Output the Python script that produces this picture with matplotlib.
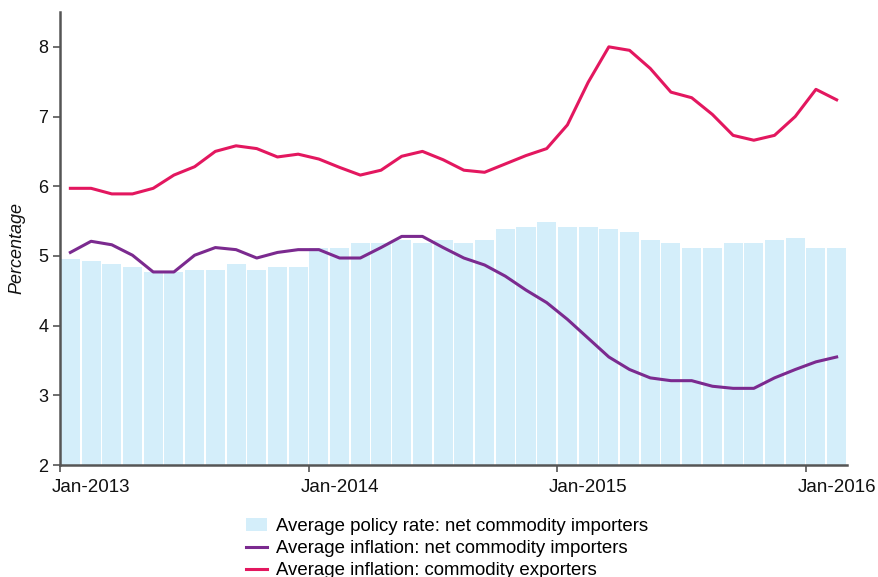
import matplotlib
matplotlib.use("Agg")
import matplotlib.pyplot as plt
import matplotlib.transforms as mtransforms
import numpy as np

plt.rcParams['font.family'] = ['Liberation Sans', 'DejaVu Sans']

months = [f"{m}-{y}" for y in (2013, 2014, 2015, 2016) for m in
          ("Jan", "Feb", "Mar", "Apr", "May", "Jun", "Jul", "Aug", "Sep", "Oct", "Nov", "Dec")][:38]

policy_rate = [4.95, 4.92, 4.88, 4.84, 4.77, 4.77, 4.80, 4.80, 4.88, 4.80, 4.84, 4.84,
               5.11, 5.11, 5.19, 5.19, 5.23, 5.19, 5.23, 5.19, 5.23, 5.38, 5.42, 5.49,
               5.42, 5.42, 5.38, 5.34, 5.23, 5.19, 5.11, 5.11, 5.19, 5.19, 5.23, 5.26,
               5.11, 5.11]

infl_importers = [5.05, 5.21, 5.16, 5.01, 4.77, 4.77, 5.01, 5.12, 5.09, 4.97, 5.05, 5.09,
                  5.09, 4.97, 4.97, 5.12, 5.28, 5.28, 5.12, 4.97, 4.87, 4.71, 4.51, 4.33,
                  4.09, 3.82, 3.55, 3.37, 3.25, 3.21, 3.21, 3.13, 3.10, 3.10, 3.25, 3.37,
                  3.48, 3.55]

infl_exporters = [5.97, 5.97, 5.89, 5.89, 5.97, 6.16, 6.28, 6.50, 6.58, 6.54, 6.42, 6.46,
                  6.39, 6.27, 6.16, 6.23, 6.43, 6.50, 6.38, 6.23, 6.20, 6.32, 6.44, 6.54,
                  6.88, 7.49, 8.00, 7.95, 7.69, 7.35, 7.27, 7.03, 6.73, 6.66, 6.73, 7.00,
                  7.39, 7.24]

tick_labels = ["Jan-2013", "Jan-2014", "Jan-2015", "Jan-2016"]

bar_color = "#D4EEFA"
purple = "#7B2A8F"
pink = "#E3175F"
axis_color = "#555555"

fig = plt.figure(figsize=(8.79, 5.77), dpi=100)
ax = fig.add_axes([60/879, 1-465/577, (847-60)/879, (465-12)/577])

x = np.arange(len(months)) + 0.5
bars = ax.bar(x, policy_rate, width=0.92, bottom=0, color=bar_color, zorder=1)
l1, = ax.plot(x, infl_importers, color=purple, lw=2.2, zorder=3)
l2, = ax.plot(x, infl_exporters, color=pink, lw=2.2, zorder=3)

ax.set_xlim(0, len(months))
ax.set_ylim(2, 8.5)
ax.set_yticks([2, 3, 4, 5, 6, 7, 8])
ax.set_xticks([0, 12, 24, 36])
ax.set_xticklabels(tick_labels)

for s in ("top", "right"):
    ax.spines[s].set_visible(False)
for s in ("left", "bottom"):
    ax.spines[s].set_color(axis_color)
    ax.spines[s].set_linewidth(1.8)
ax.tick_params(axis="both", colors=axis_color, labelcolor="#111111",
               labelsize=13, length=5, width=1.2)
ax.tick_params(axis="x", pad=5, labelsize=13.5)

offset = mtransforms.ScaledTranslation(-8/100, 0, fig.dpi_scale_trans)
for lab in ax.get_xticklabels():
    lab.set_horizontalalignment("left")
    lab.set_transform(lab.get_transform() + offset)

fig.text(17/879, 1-248/577, "Percentage", fontsize=13, style="italic", color="#111111",
         rotation=90, ha="center", va="center")

leg = fig.legend([bars, l1, l2],
                 ["Average policy rate: net commodity importers",
                  "Average inflation: net commodity importers",
                  "Average inflation: commodity exporters"],
                 loc="upper left", bbox_to_anchor=(246/879, 1-518/577),
                 frameon=False, fontsize=13.45, ncol=1, handlelength=1.1,
                 handleheight=0.7, handletextpad=0.5, labelspacing=0.27,
                 borderaxespad=0, borderpad=0)

fig.savefig("out.png", dpi=100)
